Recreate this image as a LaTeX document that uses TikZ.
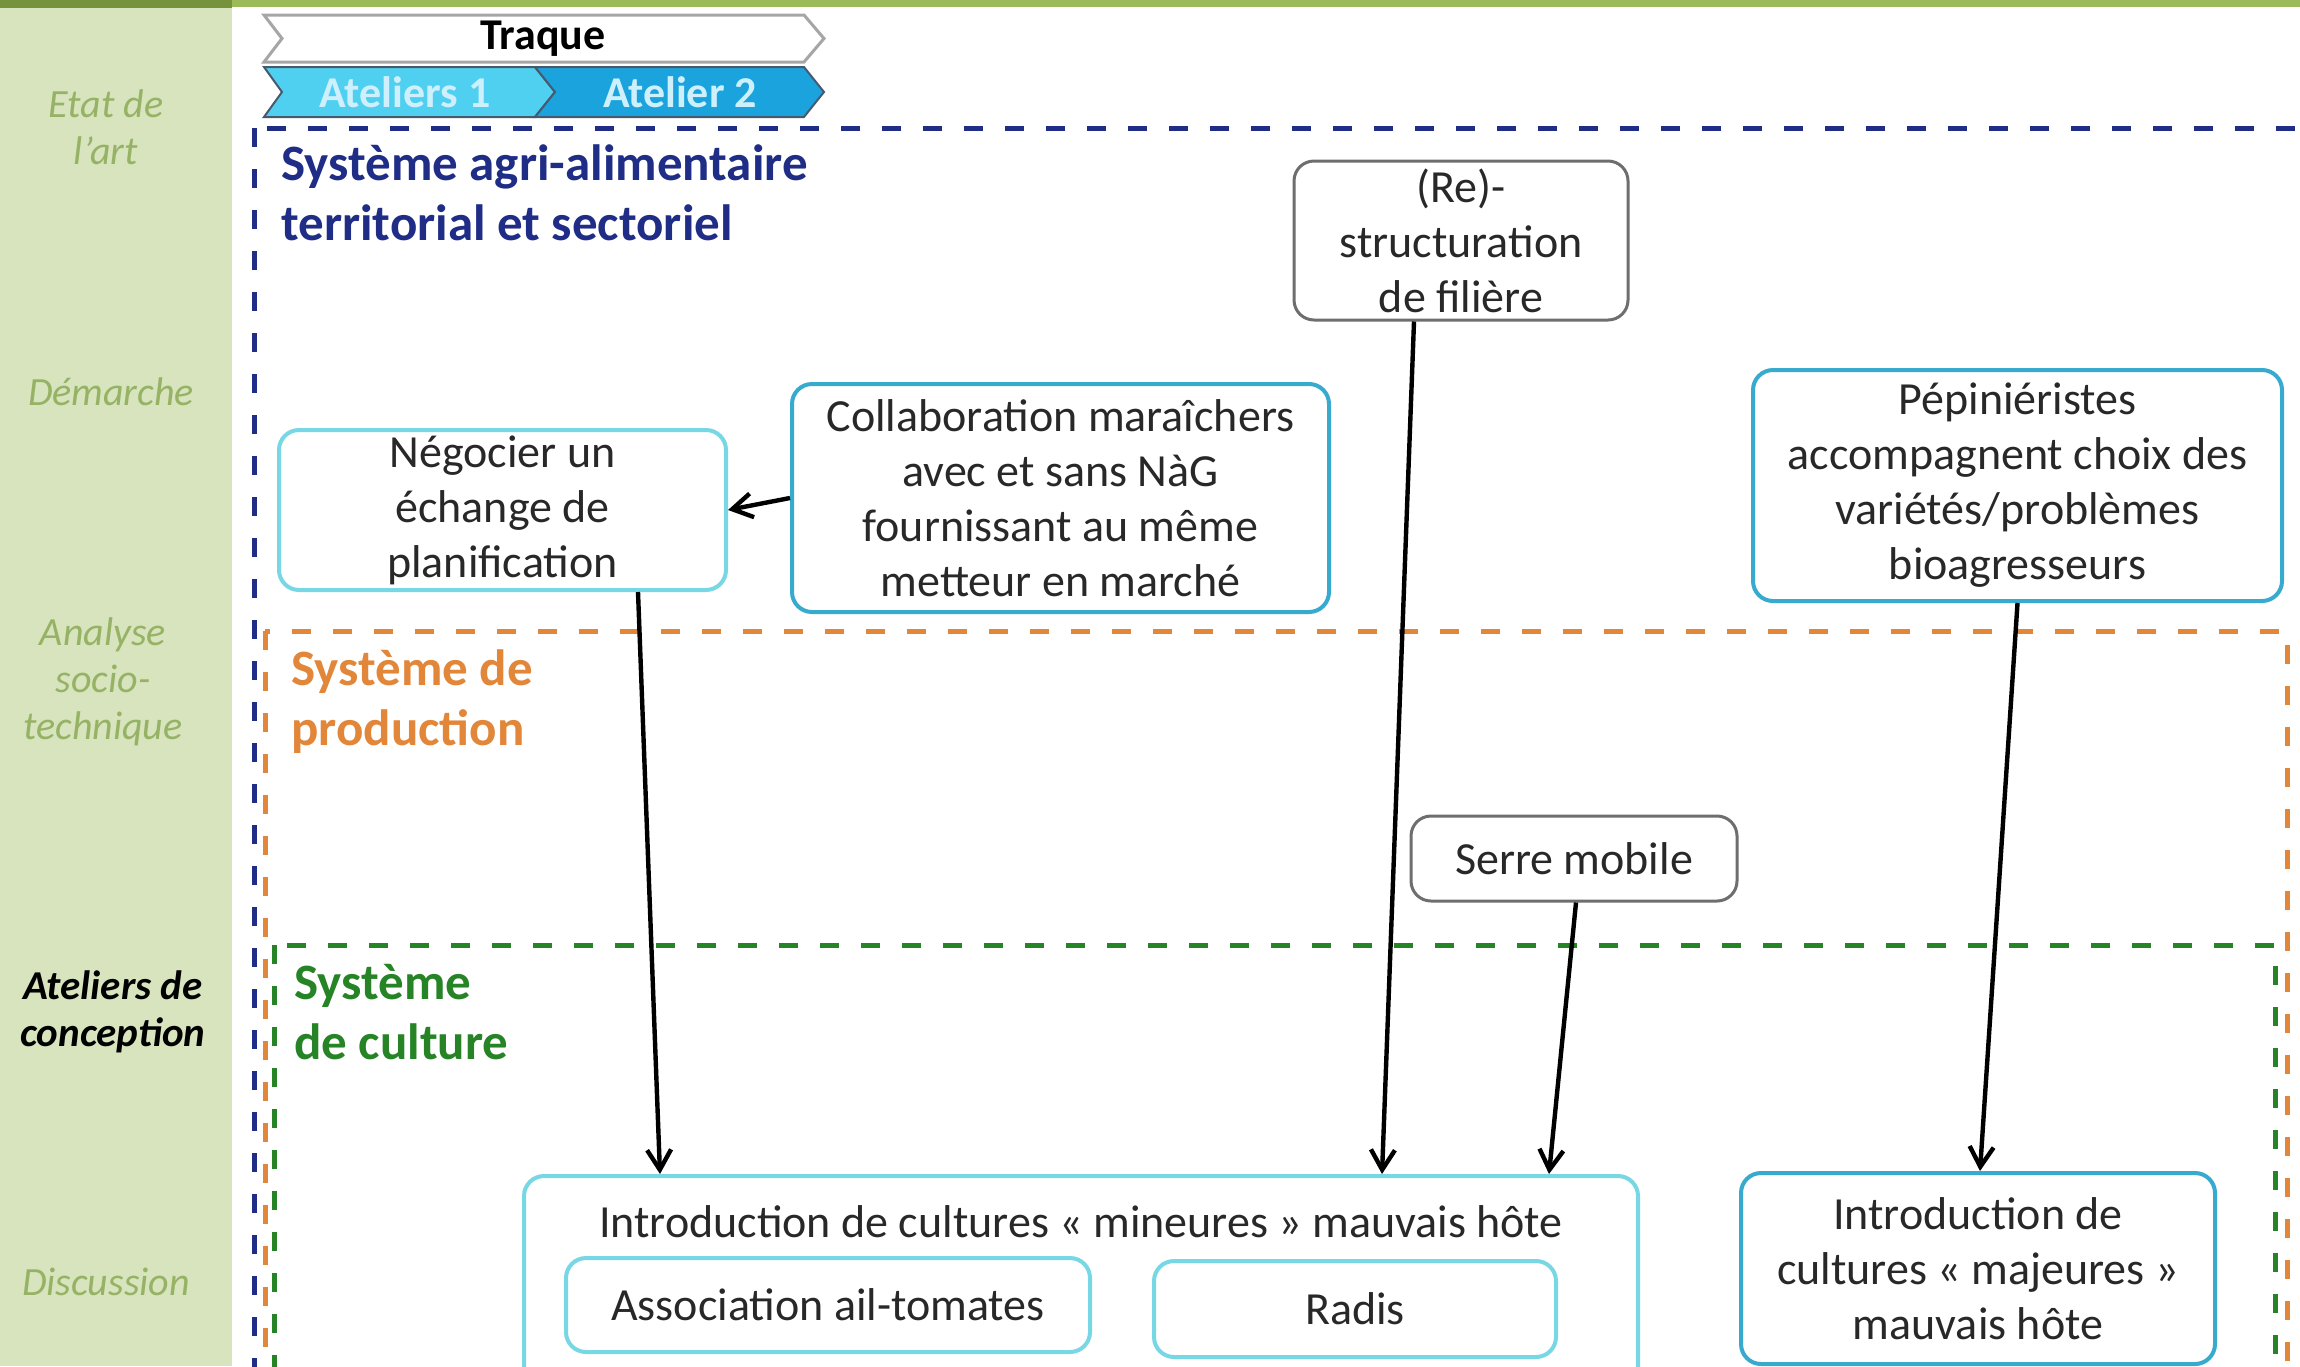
\documentclass[tikz,border=0pt]{standalone}
\usepackage{fontspec}
\setmainfont{Carlito}
\usetikzlibrary{arrows.meta,calc}
\definecolor{sidebg}{RGB}{215,228,189}
\definecolor{stripdark}{RGB}{118,146,60}
\definecolor{striplight}{RGB}{155,187,89}
\definecolor{sidetxt}{RGB}{150,178,100}
\definecolor{navyc}{RGB}{31,45,134}
\definecolor{orangec}{RGB}{226,134,58}
\definecolor{greenc}{RGB}{38,132,38}
\definecolor{cyanlight}{RGB}{120,215,228}
\definecolor{cyanmed}{RGB}{55,170,205}
\definecolor{grayb}{RGB}{110,110,110}
\definecolor{txt}{RGB}{40,40,40}
\definecolor{at1}{RGB}{80,208,240}
\definecolor{at2}{RGB}{26,163,220}
\definecolor{atxt}{RGB}{205,240,252}
\definecolor{chevborder}{RGB}{70,90,110}
\begin{document}
\begin{tikzpicture}[x=0.5pt,y=-0.5pt,
  box/.style={draw, rounded corners=10pt, fill=white, align=center, inner sep=0pt, text=txt, font=\fontsize{23}{27.5}\selectfont},
  cyanL/.style={box, draw=cyanlight, line width=2pt},
  cyanM/.style={box, draw=cyanmed, line width=2pt},
  grayB/.style={box, draw=grayb, line width=1.5pt},
  arr/.style={-{Straight Barb[length=10pt,width=12pt]}, line width=2.2pt, black},
  dsh/.style={dash pattern=on 9.5pt off 11pt, line width=2.5pt},
  sidelab/.style={align=center, inner sep=0pt, text=sidetxt, font=\fontsize{20}{23.5}\selectfont\itshape},
  systitle/.style={anchor=west, align=left, inner sep=0pt, font=\fontsize{25.5}{30}\selectfont\bfseries}
]
\path[use as bounding box] (0,0) rectangle (2300,1366);
\clip (0,0) rectangle (2300,1366);
\fill[white] (0,0) rectangle (2300,1366);
% sidebar
\fill[sidebg] (0,0) rectangle (232,1366);
\fill[stripdark] (0,0) rectangle (232,8);
\fill[striplight] (232,0) rectangle (2300,7);

\node[sidelab] (s1) at (106,127) {Etat de\\l'art};
\node[sidelab] (s2) at (111,392) {Démarche};
\node[sidelab] (s3) at (103,682) {Analyse\\socio-\\technique};
\node[sidelab, text=black, font=\fontsize{20.5}{23.5}\selectfont\bfseries\itshape] (s4) at (113,1012) {Ateliers de\\conception};
\node[sidelab] (s5) at (106,1282) {Discussion};

% chevrons
\draw[fill=white, draw=gray!70, line width=1.5pt] (264,15) -- (804,15) -- (824,38.5) -- (804,62) -- (264,62) -- (282,38.5) -- cycle;
\node[inner sep=0pt, font=\fontsize{22}{26}\selectfont\bfseries] (traque) at (543,38.5) {Traque};
\draw[fill=at1, draw=chevborder, line width=1pt] (264,67) -- (535,67) -- (555,92) -- (535,117) -- (264,117) -- (282,92) -- cycle;
\draw[fill=at2, draw=chevborder, line width=1pt] (535,67) -- (804,67) -- (824,92) -- (804,117) -- (535,117) -- (555,92) -- cycle;
\node[inner sep=0pt, text=atxt, font=\fontsize{22}{26}\selectfont\bfseries] (at1) at (405,92) {Ateliers 1};
\node[inner sep=0pt, text=atxt, font=\fontsize{22}{26}\selectfont\bfseries] (at2) at (680,92) {Atelier 2};

% system frames
\draw[dsh, navyc] (254,128) rectangle (2340,1420);
\draw[dsh, orangec] (265,631) rectangle (2287,1420);
\draw[dsh, greenc] (274,945) rectangle (2275,1420);

\node[systitle, text=navyc] (t1) at (281,193) {Système agri-alimentaire\\territorial et sectoriel};
\node[systitle, text=orangec] (t2) at (291,702) {Système de\\production};
\node[systitle, text=greenc] (t3) at (294,1012) {Système\\de culture};

% boxes
\node[grayB, minimum width=167pt, minimum height=79.5pt] (restr) at (1461,240.5) {(Re)-\\structuration\\de filière};
\node[cyanL, minimum width=223.5pt, minimum height=80pt] (neg) at (502.5,510) {Négocier un\\échange de\\planification};
\node[cyanM, minimum width=268.5pt, minimum height=114pt] (collab) at (1060.5,498) {Collaboration maraîchers\\avec et sans NàG\\fournissant au même\\metteur en marché};
\node[cyanM, minimum width=264.5pt, minimum height=115.5pt] (pep) at (2017.5,485.5) {Pépiniéristes\\accompagnent choix des\\variétés/problèmes\\bioagresseurs};
\node[grayB, minimum width=163pt, minimum height=42.5pt] (serre) at (1574,858.5) {Serre mobile};
\node[cyanL, minimum width=557pt, minimum height=122pt] (big) at (1081,1298) {};
\node[inner sep=0pt, text=txt, font=\fontsize{23}{27.5}\selectfont] (bigt) at (1081,1222) {Introduction de cultures « mineures » mauvais hôte};
\node[cyanL, minimum width=262pt, minimum height=47pt] (assoc) at (828,1305) {Association ail-tomates};
\node[cyanL, minimum width=201pt, minimum height=48pt] (radis) at (1355,1309) {Radis};
\node[cyanM, minimum width=237pt, minimum height=95.5pt] (maj) at (1978,1268.5) {Introduction de\\cultures « majeures »\\mauvais hôte};

% arrows
\draw[arr] ([xshift=67.75pt]neg.south) -- ([xshift=-210.5pt]big.north);
\draw[arr] ([xshift=-23.5pt]restr.south) -- ([xshift=150.5pt]big.north);
\draw[arr] ([xshift=1pt]serre.south) -- ([xshift=234pt]big.north);
\draw[arr] (pep.south) -- ([xshift=1pt]maj.north);
\draw[arr] (collab.west) -- (neg.east);
\end{tikzpicture}
\end{document}
